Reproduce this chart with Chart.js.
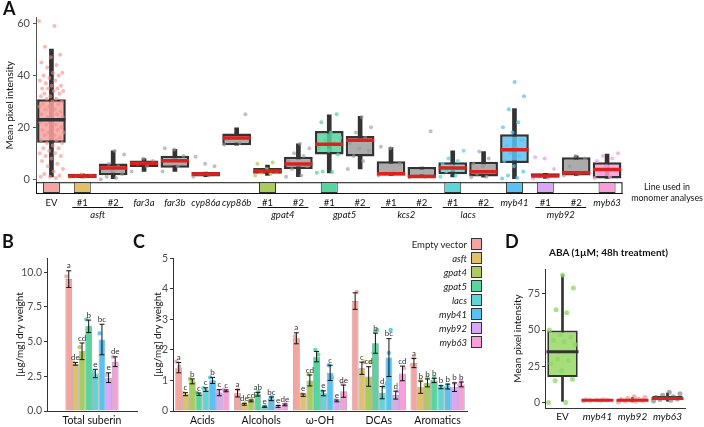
<!DOCTYPE html>
<html>
<head>
<meta charset="utf-8">
<script src="https://cdn.jsdelivr.net/npm/chart.js@4.4.1/dist/chart.umd.min.js"></script>
<style>
body { margin: 0; background: #fff; font-family: Lato, sans-serif; }
#wrap { position: relative; width: 704px; height: 427px; overflow: hidden; }
.pane { position: absolute; }
.tag { position: absolute; font-weight: bold; font-size: 18px; color: #111; }
.note { position: absolute; font-size: 8.8px; line-height: 11px; color: #111; text-align: center; white-space: nowrap; }
#legend { position: absolute; left: 380px; top: 237px; width: 102px; }
.li { height: 14px; display: flex; justify-content: flex-end; align-items: center; font-size: 9.5px; color: #222; }
.li span.sw { display: inline-block; width: 11px; height: 12px; border: 1px solid #333; margin-left: 4px; box-sizing: border-box; }
#dtitle { position: absolute; left: 549px; top: 246px; font-size: 10px; font-weight: bold; color: #111; }
</style>
</head>
<body>
<div id="wrap">
  <div class="pane" style="left:0;top:0;width:640px;height:232px"><canvas id="chartA"></canvas></div>
  <div class="pane" style="left:0;top:250px;width:140px;height:177px"><canvas id="chartB"></canvas></div>
  <div class="pane" style="left:140px;top:250px;width:340px;height:177px"><canvas id="chartC"></canvas></div>
  <div class="pane" style="left:500px;top:250px;width:204px;height:177px"><canvas id="chartD"></canvas></div>
  <div class="tag" style="left:3px;top:-3px">A</div>
  <div class="tag" style="left:2px;top:230px">B</div>
  <div class="tag" style="left:133px;top:230px">C</div>
  <div class="tag" style="left:505px;top:230px">D</div>
  <div class="note" style="left:631px;top:181px;width:72px">Line used in<br>monomer analyses</div>
  <div id="legend"></div>
  <div id="dtitle">ABA (1µM; 48h treatment)</div>
</div>
<script>
// ---------- panel A : lines ----------
const linesA = ['EV','#1','#2','far3a','far3b','cyp86a','cyp86b','#1','#2','#1','#2','#1','#2','#1','#2','myb41','#1','#2','myb63'];
const groupsA = [['asft',1,2],['gpat4',7,8],['gpat5',9,10],['kcs2',11,12],['lacs',13,14],['myb92',16,17]];
const q1A  = [14.1,0.5,1.6,4.7,4.4,1.1,13.1,2.1,4.0, 9.5, 8.8,1.5,0.9,1.9,1.1, 6.3,1.0,1.5,0.3];
const medA = [22.9,1.3,4.3,6.2,7.1,2.0,15.9,3.2,5.9,13.5,15.0,2.1,1.1,4.3,2.9,11.4,1.3,2.5,3.8];
const q3A  = [30.8,2.1,6.1,7.2,9.1,2.8,17.6,4.3,8.7,18.6,16.7,6.9,4.7,6.6,6.8,17.3,2.3,8.5,6.6];
const loA  = [0.9,0.5,0.2,3.0,3.0,1.0,13.1,1.5,1.0, 2.5, 4.0,1.5,0.9,0.9,0.8, 0.2,0.3,1.5,0.3];
const hiA  = [50.1,2.1,11.0,8.0,11.5,2.8,19.8,5.5,13.7,24.8,24.2,12.2,4.7,11.0,10.7,27.2,2.3,9.0,9.7];
const ptsA = [
  [61,59,51,48,47,45,44,43,41,41,40,40,39,38,38,37,36,36,35,35,35,34,34,33,33,32,32,31,31,30,30,29,29,28,28,27,27,26,26,25,25,24,24,23,23,23,22,22,21,21,20,20,19,19,18,18,17,17,16,16,15,15,14,14,13,12,12,11,10,10,9,9,8,7,6,5,4,3,2,1.5,1,1,0.5],
  [0.8,1,1.2,1.5,1.8],
  [0,0.5,1,2,3.5,4,5,6,9.5,11],
  [3,5,6,7,8],
  [3,5,7,9,11.5,12],
  [1,1.5,2,5,6,8.7],
  [13.3,14,16,25],
  [1.5,2,2.5,3,4,6,6.5],
  [1,1.5,4,5,6,7,9,10,12,13.7],
  [2.5,2.8,3,9.5,11,12,14,15,16,18,22,25],
  [4,7,9,11,12,14,16,18,20,24],
  [1.5,2,2,6,12,12.5],
  [0.8,1,1.2,18.5],
  [1,1.5,3,4,5,6,7,8,11],
  [0.8,1,2,3,5,6,8,10.7],
  [0.3,0.5,1.5,3,5,7,9,10,11,12,13,15,18,20,22,27,32,37.5],
  [0.3,0.5,1,4,8,8.5],
  [1.5,2,5,8,9],
  [0.5,1,2,3,5,7,8,9,10]
];
const yTicksA = [0,20,40,60];

// ---------- panels B / C : suberin monomers ----------
const genotypes = ['Empty vector','asft','gpat4','gpat5','lacs','myb41','myb92','myb63'];
const totalSuberin = [9.5,3.4,4.3,6.1,2.7,5.15,2.4,3.55];
const totalErr     = [0.6,0.1,0.6,0.45,0.3,1.1,0.35,0.35];
const totalLetters = ['a','de','cd','b','e','bc','e','de'];
const totalReps    = [[9.7,9.2],[3.5],[4.6,4.0],[6.6,6.0],[2.8],[5.6,4.8],[2.6],[3.9,3.4]];
const classes = ['Acids','Alcohols','ω-OH','DCAs','Aromatics'];
const acids       = [1.42,0.55,0.97,0.55,0.70,1.00,0.60,0.66];
const acidsErr    = [0.17,0.05,0.08,0.04,0.06,0.10,0.10,0.03];
const acidsLet    = ['a','c','b','c','c','b','c','c'];
const acidsReps   = [[1.62,1.45,1.2],[0.6,0.5],[1.05,0.95,0.9],[0.6,0.5],[0.75,0.65],[1.1,0.95],[0.65,0.55],[0.7,0.65]];
const alcohols    = [0.58,0.22,0.33,0.55,0.14,0.40,0.15,0.20];
const alcoholsErr = [0.12,0.03,0.03,0.06,0.02,0.06,0.03,0.03];
const alcoholsLet = ['a','de','cd','ab','e','bc','e','de'];
const alcoholsReps= [[0.7,0.5],[0.25,0.2],[0.36,0.3],[0.62,0.5],[0.15],[0.45,0.38],[0.17],[0.22]];
const wOH         = [2.38,0.52,1.00,1.78,0.58,1.25,0.33,0.65];
const wOHErr      = [0.18,0.04,0.18,0.17,0.08,0.25,0.03,0.20];
const wOHLet      = ['a','e','cd','','e','c','e','de'];
const wOHReps     = [[2.45,2.3,2.2],[0.55,0.5],[1.2,0.9],[2.0,1.85,1.6],[0.65,0.5],[1.5,1.1],[0.35],[0.9,0.5]];
const dcas        = [3.60,1.40,1.13,2.22,0.60,1.75,0.52,1.23];
const dcasErr     = [0.27,0.20,0.32,0.33,0.20,0.62,0.13,0.24];
const dcasLet     = ['','c','cd','b','d','bc','d','cd'];
const dcasReps    = [[3.9,3.5],[1.6,1.3],[1.6,0.9],[2.65,2.6,1.9],[0.8,0.4],[2.65,1.9,0.9],[0.65,0.45],[1.4,1.1]];
const aromatics   = [1.57,0.78,0.92,1.00,0.78,0.80,0.78,0.87];
const aromaticsErr= [0.15,0.20,0.13,0.07,0.05,0.08,0.14,0.08];
const aromaticsLet= ['a','b','b','b','b','b','b','b'];
const aromaticsReps=[[1.75,1.5],[1.0,0.7],[1.1,0.85],[1.1,0.95],[0.8],[0.85,0.75],[0.9,0.7],[0.95,0.85]];
const yTicksB = [0,2.5,5,7.5,10];
const yTicksC = [0,1,2,3,4,5];

// ---------- panel D : ABA ----------
const linesD = ['EV','myb41','myb92','myb63'];
const q1D  = [17.6,1.2,0.8,1.5];
const medD = [35.1,1.5,1.5,2.8];
const q3D  = [49.8,1.9,2.5,4.5];
const loD  = [0.8,1.0,0.4,0.8];
const hiD  = [88,2.2,3.5,6.5];
const ptsD = [
  [0,0,15,16,22,27,29,30,40,42,43,45,47,50,62,64,79,88],
  [1,1.2,1.4,1.6,1.8,2,2.1],
  [0.4,0.8,1,1.3,1.6,2,2.3,2.8,3.4,4],
  [1,1.5,2,2.5,3,3.5,4,5,6,7]
];
const yTicksD = [0,25,50,75];

// ---------- styles ----------
const genoColors = ['#F5A5A1','#E2C06A','#A9CC5C','#58D49E','#5FD5D5','#58C2F3','#D9A7F6','#F89ED8'];
const stripColorIdx = {0:0,1:1,7:2,9:3,13:4,15:5,16:6,18:7};
const boxColorIdx = {0:0,9:3,13:4,15:5,18:7};
const red = '#E0201C';
const dark = '#333';
const tickGray = '#4d4d4d';
Chart.defaults.font.family = 'Lato, sans-serif';
Chart.defaults.animation = false;
Chart.defaults.events = [];
Chart.defaults.plugins.legend.display = false;
Chart.defaults.plugins.tooltip.enabled = false;

function alpha(hex, a) {
  const n = parseInt(hex.slice(1), 16);
  return `rgba(${n >> 16},${(n >> 8) & 255},${n & 255},${a})`;
}
function jit(i, w) { return ((i * 0.6180339) % 1 - 0.5) * w; }

function boxSets(q1, med, q3, lo, hi, fills, medCols, opt) {
  return [
    { type: 'bar', data: lo.map((v, i) => [v, hi[i]]), backgroundColor: dark, barThickness: opt.whisker,
      grouped: false, order: 5 },
    { type: 'bar', data: q1.map((v, i) => [v, q3[i]]), backgroundColor: fills, borderColor: dark,
      borderWidth: opt.border, borderSkipped: false, grouped: false, barPercentage: opt.pct, categoryPercentage: 1, order: 4 },
    { type: 'line', data: med, showLine: false, pointStyle: 'line', pointRadius: opt.medR,
      pointBorderColor: medCols, pointBorderWidth: opt.medW, order: 1 }
  ];
}
function pointSet(pts, colorFn, w, r) {
  const data = [], cols = [];
  pts.forEach((arr, c) => arr.forEach((v, i) => { data.push({ x: c + jit(i, w), y: v }); cols.push(colorFn(c)); }));
  return { type: 'scatter', xAxisID: 'xj', data, pointBackgroundColor: cols, pointBorderWidth: 0, pointRadius: r, order: 2 };
}
const fixW = w => s => { s.width = w; };
const fixH = h => s => { s.height = h; };
const setTicks = arr => s => { s.ticks = arr.map(v => ({ value: v })); };
const isGene = l => l !== 'EV' && l[0] !== '#';
const jitAxis = n => ({ type: 'linear', display: false, offset: false, min: -0.5, max: n - 0.5, grid: { offset: false } });

// ---------- chart A ----------
const stripLo = -5.28, stripHi = -1.13;
const stripBand = {
  id: 'stripBand',
  beforeDatasetsDraw(chart) {
    const { ctx, chartArea: a, scales } = chart;
    const y0 = scales.y.getPixelForValue(stripHi);
    ctx.save();
    ctx.strokeStyle = '#111'; ctx.lineWidth = 1;
    ctx.strokeRect(a.left + 0.5, y0 + 0.5, a.right - a.left - 1, a.bottom - y0);
    ctx.restore();
  },
  afterDraw(chart) {
    const { ctx, scales } = chart;
    const x = scales.x;
    ctx.save();
    ctx.fillStyle = '#111'; ctx.strokeStyle = '#111'; ctx.lineWidth = 1;
    ctx.font = 'italic 9.5px Lato, sans-serif'; ctx.textAlign = 'center'; ctx.textBaseline = 'middle';
    groupsA.forEach(([name, a, b]) => {
      const xa = x.getPixelForValue(a) - 10, xb = x.getPixelForValue(b) + 10;
      ctx.beginPath(); ctx.moveTo(xa, 207.5); ctx.lineTo(xb, 207.5); ctx.stroke();
      ctx.fillText(name, (xa + xb) / 2, 215);
    });
    ctx.restore();
  }
};
const boxFillA = linesA.map((l, i) => i in boxColorIdx ? alpha(genoColors[boxColorIdx[i]], 0.85) : '#ABABAB');
const medColA = linesA.map((l, i) => i === 0 ? dark : red);
const ptColA = c => c === 0 ? 'rgba(245,140,135,0.6)' : c in stripColorIdx ? alpha(genoColors[stripColorIdx[c]], 0.75) : 'rgba(150,150,150,0.6)';
new Chart(document.getElementById('chartA'), {
  type: 'bar',
  data: {
    labels: linesA,
    datasets: [
      { type: 'bar', data: linesA.map((l, i) => i in stripColorIdx ? [stripLo, stripHi] : null),
        backgroundColor: linesA.map((l, i) => i in stripColorIdx ? genoColors[stripColorIdx[i]] : 'transparent'),
        borderColor: '#333', borderWidth: 1, borderSkipped: false, grouped: false, barPercentage: 0.55, categoryPercentage: 1, order: 6 },
      ...boxSets(q1A, medA, q3A, loA, hiA, boxFillA, medColA, { whisker: 4, border: 2.5, pct: 0.93, medR: 14, medW: 3.5 }),
      pointSet(ptsA, ptColA, 0.8, 2)
    ]
  },
  options: {
    responsive: true, maintainAspectRatio: false,
    layout: { padding: { top: 14, right: 9, left: 0, bottom: 0 } },
    scales: {
      x: { offset: true, grid: { display: false, drawTicks: false }, border: { color: '#555' },
           ticks: { padding: 4, color: '#111', autoSkip: false, maxRotation: 0,
                    font: c => ({ size: 9.5, style: isGene(linesA[c.index] || '') ? 'italic' : 'normal' }) },
           afterFit: fixH(39) },
      xj: jitAxis(linesA.length),
      y: { min: stripLo, max: 62.3, afterBuildTicks: setTicks(yTicksA),
           grid: { drawOnChartArea: false, tickLength: 3, color: '#555' }, border: { color: '#555' },
           ticks: { padding: 3, color: tickGray, font: { size: 11 } },
           title: { display: true, text: 'Mean pixel intensity', color: '#111', font: { size: 10 }, padding: { top: 4 } },
           afterFit: fixW(36) }
    }
  },
  plugins: [stripBand]
});

// ---------- replicate dots, error bars + letters for B and C ----------
const repDots = {
  id: 'repDots',
  afterDatasetsDraw(chart) {
    const { ctx } = chart; const y = chart.scales.y;
    ctx.save();
    chart.data.datasets.forEach((ds, i) => {
      chart.getDatasetMeta(i).data.forEach((bar, j) => {
        ctx.fillStyle = alpha(ds.backgroundColor, 0.9);
        ds.reps[j].forEach((v, k) => {
          ctx.beginPath();
          ctx.arc(bar.x + jit(k + j, 0.7) * bar.width, y.getPixelForValue(v), 2.2, 0, Math.PI * 2);
          ctx.fill();
        });
      });
    });
    ctx.restore();
  }
};
const errorBars = {
  id: 'errorBars',
  afterDatasetsDraw(chart) {
    const { ctx } = chart; const y = chart.scales.y;
    ctx.save();
    chart.data.datasets.forEach((ds, i) => {
      chart.getDatasetMeta(i).data.forEach((bar, j) => {
        const v = ds.data[j], e = ds.err[j];
        const t = y.getPixelForValue(v + e), b = y.getPixelForValue(v - e);
        ctx.strokeStyle = '#111'; ctx.lineWidth = 1;
        ctx.beginPath();
        ctx.moveTo(bar.x, t); ctx.lineTo(bar.x, b);
        ctx.moveTo(bar.x - 2.5, t); ctx.lineTo(bar.x + 2.5, t);
        ctx.moveTo(bar.x - 2.5, b); ctx.lineTo(bar.x + 2.5, b);
        ctx.stroke();
        ctx.fillStyle = '#333'; ctx.font = '8px Lato, sans-serif';
        ctx.textAlign = 'center'; ctx.textBaseline = 'bottom';
        ctx.fillText(ds.letters[j], bar.x, t - 1);
      });
    });
    ctx.restore();
  }
};
function yAxis(ticks, max, fmt, titlePad, w) {
  return { min: 0, max, afterBuildTicks: setTicks(ticks),
    grid: { drawOnChartArea: false, tickLength: 3, color: '#333' }, border: { color: '#333' },
    ticks: { padding: 2, color: tickGray, font: { size: 10.5 }, callback: fmt },
    title: { display: true, text: '[µg/mg] dry weight', color: '#111', font: { size: 10 }, padding: { top: titlePad } },
    afterFit: fixW(w) };
}
const xCat = { grid: { display: false, drawTicks: false }, border: { color: '#333' },
  ticks: { padding: 3, color: '#111', font: { size: 10.5 }, maxRotation: 0, autoSkip: false }, afterFit: fixH(16) };

new Chart(document.getElementById('chartB'), {
  type: 'bar',
  data: {
    labels: ['Total suberin'],
    datasets: genotypes.map((g, i) => ({ label: g, data: [totalSuberin[i]], err: [totalErr[i]], letters: [totalLetters[i]],
      reps: [totalReps[i]],
      backgroundColor: genoColors[i], borderColor: 'rgba(0,0,0,0.45)', borderWidth: 0.7,
      barPercentage: 1, categoryPercentage: 0.59 }))
  },
  options: {
    responsive: true, maintainAspectRatio: false,
    layout: { padding: { top: 7, right: 3 } },
    scales: { x: xCat, y: yAxis(yTicksB, 11, v => v.toFixed(1), 14, 47) }
  },
  plugins: [repDots, errorBars]
});

const classTable = [
  [acids, acidsErr, acidsLet, acidsReps], [alcohols, alcoholsErr, alcoholsLet, alcoholsReps],
  [wOH, wOHErr, wOHLet, wOHReps], [dcas, dcasErr, dcasLet, dcasReps],
  [aromatics, aromaticsErr, aromaticsLet, aromaticsReps]
];
new Chart(document.getElementById('chartC'), {
  type: 'bar',
  data: {
    labels: classes,
    datasets: genotypes.map((g, i) => ({ label: g,
      data: classTable.map(c => c[0][i]), err: classTable.map(c => c[1][i]),
      letters: classTable.map(c => c[2][i]), reps: classTable.map(c => c[3][i]),
      backgroundColor: genoColors[i], borderColor: 'rgba(0,0,0,0.45)', borderWidth: 0.7,
      barPercentage: 1, categoryPercentage: 0.92 }))
  },
  options: {
    responsive: true, maintainAspectRatio: false,
    layout: { padding: { top: 7, right: 13 } },
    scales: { x: xCat, y: yAxis(yTicksC, 5, v => v, 12, 33) }
  },
  plugins: [repDots, errorBars]
});

// legend for B / C
const lg = document.getElementById('legend');
genotypes.forEach((g, i) => {
  const d = document.createElement('div'); d.className = 'li';
  const t = document.createElement('span'); t.textContent = g; if (i > 0) t.style.fontStyle = 'italic';
  const s = document.createElement('span'); s.className = 'sw'; s.style.background = genoColors[i];
  d.appendChild(t); d.appendChild(s); lg.appendChild(d);
});

// ---------- chart D ----------
const ptColD = c => ['rgba(140,215,100,0.75)','rgba(230,150,160,0.5)','rgba(230,110,110,0.5)','rgba(90,90,90,0.5)'][c];
new Chart(document.getElementById('chartD'), {
  type: 'bar',
  data: {
    labels: linesD,
    datasets: [
      ...boxSets(q1D, medD, q3D, loD, hiD, ['#A8DD7C','#B3B3B3','#B3B3B3','#B3B3B3'], [dark, red, red, red],
                 { whisker: 2, border: 2, pct: 0.87, medR: 16, medW: 3 }),
      pointSet(ptsD, ptColD, 0.8, 2.5)
    ]
  },
  options: {
    responsive: true, maintainAspectRatio: false,
    layout: { padding: { top: 10, right: 12 } },
    scales: {
      x: { offset: true, grid: { display: false, drawTicks: false }, border: { color: '#333' },
           ticks: { padding: 3, color: '#111', maxRotation: 0, autoSkip: false,
                    font: c => ({ size: 10, style: c.index > 0 ? 'italic' : 'normal' }) },
           afterFit: fixH(15) },
      xj: jitAxis(linesD.length),
      y: { min: -3.8, max: 92.2, afterBuildTicks: setTicks(yTicksD),
           grid: { drawOnChartArea: false, tickLength: 3, color: '#333' }, border: { color: '#333' },
           ticks: { padding: 2, color: tickGray, font: { size: 10.5 } },
           title: { display: true, text: 'Mean pixel intensity', color: '#111', font: { size: 10 }, padding: { top: 12 } },
           afterFit: fixW(45) }
    }
  }
});
</script>
</body>
</html>
